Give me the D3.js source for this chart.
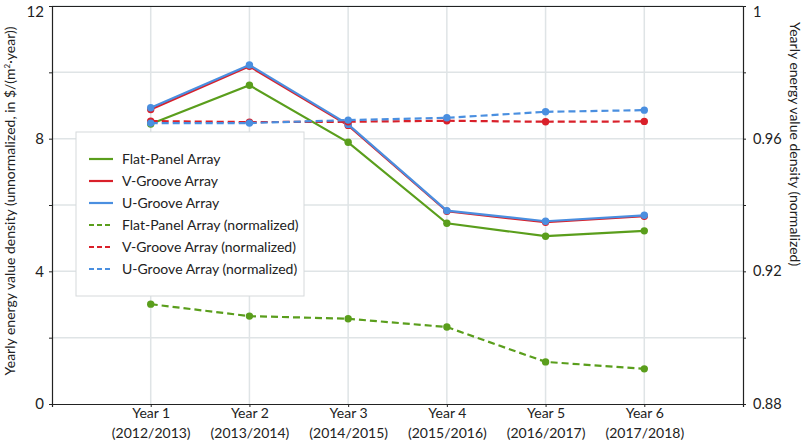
<!DOCTYPE html>
<html>
<head>
<meta charset="utf-8">
<script src="https://cdn.jsdelivr.net/npm/d3@7"></script>
<style>
  html, body { margin: 0; padding: 0; background: #fff; }
  svg { display: block; font-family: Lato, "Liberation Sans", sans-serif; }
</style>
</head>
<body>
<svg id="chart" width="805" height="446"></svg>
<script>
// ---- data ----
const categories = ["Year 1", "Year 2", "Year 3", "Year 4", "Year 5", "Year 6"];
const periods = ["(2012/2013)", "(2013/2014)", "(2014/2015)", "(2015/2016)", "(2016/2017)", "(2017/2018)"];
const flatPanel = [8.44, 9.61, 7.89, 5.45, 5.06, 5.22];
const vGroove = [8.88, 10.18, 8.40, 5.81, 5.48, 5.66];
const uGroove = [8.93, 10.22, 8.43, 5.83, 5.51, 5.69];
const flatPanelNorm = [0.9101, 0.9065, 0.9057, 0.9032, 0.8927, 0.8906];
const vGrooveNorm = [0.9653, 0.9650, 0.9651, 0.9654, 0.9651, 0.9652];
const uGrooveNorm = [0.9647, 0.9647, 0.9656, 0.9663, 0.9681, 0.9686];
const leftTicks = [0, 4, 8, 12];
const leftGrid = [0, 2, 4, 6, 8, 10, 12];
const rightTicks = [0.88, 0.92, 0.96, 1];
const rightMinor = [0.88, 0.90, 0.92, 0.94, 0.96, 0.98, 1];
const seriesNames = ["Flat-Panel Array", "V-Groove Array", "U-Groove Array",
  "Flat-Panel Array (normalized)", "V-Groove Array (normalized)", "U-Groove Array (normalized)"];

const GREEN = "#5a9e1c", RED = "#d9202a", BLUE = "#4a8fe0";

const series = [
  { name: seriesNames[0], values: flatPanel, color: GREEN, dashed: false, axis: "L" },
  { name: seriesNames[1], values: vGroove, color: RED, dashed: false, axis: "L" },
  { name: seriesNames[2], values: uGroove, color: BLUE, dashed: false, axis: "L" },
  { name: seriesNames[3], values: flatPanelNorm, color: GREEN, dashed: true, axis: "R" },
  { name: seriesNames[4], values: vGrooveNorm, color: RED, dashed: true, axis: "R" },
  { name: seriesNames[5], values: uGrooveNorm, color: BLUE, dashed: true, axis: "R" }
];

// ---- layout ----
const L = 52, R = 743, T = 6, B = 404;
const svg = d3.select("#chart");

const x = d3.scalePoint().domain(categories).range([L, R]).padding(1);
const yL = d3.scaleLinear().domain([0, 12]).range([B, T]);
const yR = d3.scaleLinear().domain([0.88, 1]).range([B, T]);

// grid
const grid = svg.append("g");
grid.selectAll("line.h").data(leftGrid.slice(1)).join("line")
  .attr("x1", L).attr("x2", R).attr("y1", d => yL(d)).attr("y2", d => yL(d))
  .attr("stroke", "#dfe4e6").attr("stroke-width", 1.5);
grid.selectAll("line.v").data(categories).join("line")
  .attr("x1", d => x(d)).attr("x2", d => x(d)).attr("y1", T).attr("y2", B)
  .attr("stroke", "#dfe4e6").attr("stroke-width", 1.5);

// top border
svg.append("line").attr("x1", L).attr("x2", R).attr("y1", T + 0.5).attr("y2", T + 0.5)
  .attr("stroke", "#222").attr("stroke-width", 1.2);

// left axis
const gL = svg.append("g").attr("transform", `translate(${L},0)`)
  .call(d3.axisLeft(yL).tickValues(leftGrid).tickSize(3).tickFormat(d => leftTicks.includes(d) ? d : ""));
gL.select(".domain").attr("stroke", "#222").attr("stroke-width", 1.2);
gL.selectAll(".tick line").attr("stroke", "#222");
gL.selectAll(".tick text").attr("font-size", 15).attr("fill", "#222").attr("x", -8)
  .attr("font-family", "Lato, sans-serif")
  .attr("dy", d => d === 12 ? "0.72em" : "0.32em");

// right axis
const gR = svg.append("g").attr("transform", `translate(${R},0)`)
  .call(d3.axisRight(yR).tickValues(rightMinor).tickSize(3)
    .tickFormat(d => rightTicks.some(t => Math.abs(t - d) < 1e-9) ? d3.format("")(+d.toFixed(2)) : ""));
gR.select(".domain").attr("stroke", "#222").attr("stroke-width", 1.2);
gR.selectAll(".tick line").attr("stroke", "#222");
gR.selectAll(".tick text").attr("font-size", 14.5).attr("fill", "#222").attr("x", 10)
  .attr("font-family", "Lato, sans-serif")
  .attr("dy", d => Math.abs(d - 1) < 1e-9 ? "0.72em" : "0.32em");

// bottom axis
const gB = svg.append("g").attr("transform", `translate(0,${B})`)
  .call(d3.axisBottom(x).tickSize(3).tickFormat(""));
gB.select(".domain").attr("stroke", "#222").attr("stroke-width", 1.2);
gB.selectAll(".tick line").attr("stroke", "#222");
const xl = gB.selectAll(".tick").append("text").attr("fill", "#222").attr("font-size", 14)
  .attr("text-anchor", "middle").attr("font-family", "Lato, sans-serif");
xl.append("tspan").attr("x", 0).attr("y", 14).text(d => d);
xl.append("tspan").attr("x", 0).attr("y", 34).text((d, i) => periods[i]);

// lines
const lineFor = s => d3.line().x((d, i) => x(categories[i])).y(d => (s.axis === "L" ? yL : yR)(d));
series.forEach(s => {
  const g = svg.append("g");
  g.append("path").datum(s.values).attr("d", lineFor(s)).attr("fill", "none")
    .attr("stroke", s.color).attr("stroke-width", 2.2)
    .attr("stroke-dasharray", s.dashed ? "7,4" : null);
  g.selectAll("circle").data(s.values).join("circle")
    .attr("cx", (d, i) => x(categories[i])).attr("cy", d => (s.axis === "L" ? yL : yR)(d))
    .attr("r", 3.7).attr("fill", s.color);
});

// legend
const lg = svg.append("g").attr("transform", "translate(76,132)");
lg.append("rect").attr("width", 228).attr("height", 164).attr("fill", "#fff")
  .attr("stroke", "#d6d9db").attr("stroke-width", 1);
series.forEach((s, i) => {
  const yy = 27 + i * 22;
  lg.append("line").attr("x1", 13).attr("x2", 37).attr("y1", yy).attr("y2", yy)
    .attr("stroke", s.color).attr("stroke-width", 2.2)
    .attr("stroke-dasharray", s.dashed ? "5,3" : null);
  lg.append("text").attr("x", 46).attr("y", yy + 5).attr("font-size", 14).attr("fill", "#222")
    .text(s.name);
});

// axis titles
svg.append("text").attr("transform", `translate(15,${(T + B) / 2 - 4}) rotate(-90)`)
  .attr("text-anchor", "middle").attr("font-size", 14).attr("fill", "#222")
  .html('Yearly energy value density (unnormalized, in $/(m<tspan dy="-5" font-size="8">2</tspan><tspan dy="5">·year))</tspan>');
svg.append("text").attr("transform", `translate(790,22) rotate(90)`)
  .attr("text-anchor", "start").attr("font-size", 14).attr("fill", "#222")
  .text("Yearly energy value density (normalized)");
</script>
</body>
</html>
